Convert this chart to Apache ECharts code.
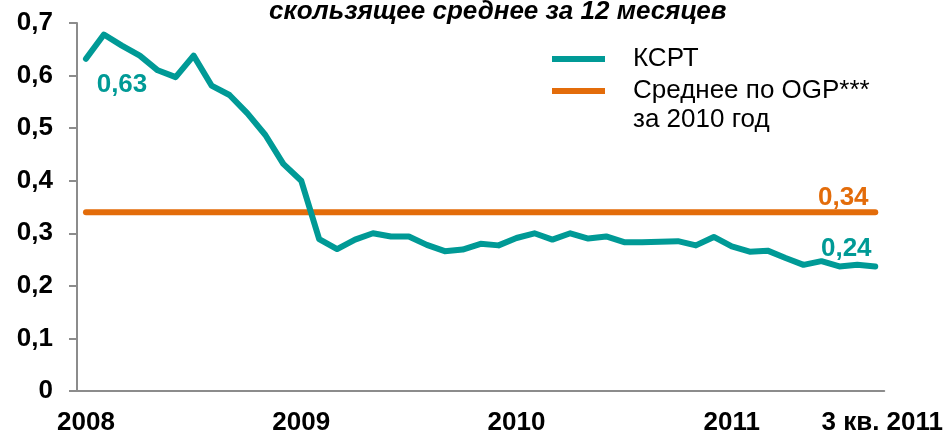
<!DOCTYPE html>
<html>
<head>
<meta charset="utf-8">
<script src="https://cdn.jsdelivr.net/npm/echarts@6/dist/echarts.min.js"></script>
<style>
  html, body { margin: 0; padding: 0; background: #fff; }
  #container { width: 946px; height: 436px; }
</style>
</head>
<body>
<div id="container"></div>
<script>
var years = ["2008", "2009", "2010", "2011"];
var months = ["01", "02", "03", "04", "05", "06", "07", "08", "09", "10", "11", "12"];
// янв. 2008 .. сен. 2011
var categories = [];
years.forEach(function (y) {
    months.forEach(function (m) {
        if (categories.length < 45) categories.push(y + "-" + m);
    });
});

// КСРТ, скользящее среднее за 12 месяцев
var ksrt = [
    0.632, 0.678, 0.657, 0.638, 0.610, 0.597, 0.638, 0.581, 0.563, 0.528, 0.487, 0.432,
    0.400, 0.289, 0.270, 0.288, 0.300, 0.294, 0.294, 0.278, 0.266, 0.269, 0.280, 0.277,
    0.291, 0.300, 0.288, 0.300, 0.290, 0.294, 0.283, 0.283, 0.284, 0.285, 0.277, 0.293,
    0.275, 0.265, 0.267, 0.253, 0.240, 0.247, 0.237, 0.240, 0.237
];
var ogpAvg = 0.34;

var tickIdx = [0, 12, 24, 36, 44];
var tickText = ["2008", "2009", "2010", "2011", "3 кв. 2011"];

var teal = "#009A96";
var orange = "#E36C0A";
var font = "'Liberation Sans', Arial, sans-serif";

function comma(v) {
    return String(v).replace(".", ",");
}

var dom = document.getElementById("container");
var myChart = echarts.init(dom);

var ksrtData = ksrt.map(function (v, i) {
    if (i == 0) {
        return { value: v, label: { show: true, position: "bottom", offset: [36, 8], formatter: "0,63" } };
    }
    if (i == ksrt.length - 1) {
        return { value: v, label: { show: true, position: "top", offset: [-29, 0], formatter: "0,24" } };
    }
    return v;
});

var ogpData = [
    [categories[0], ogpAvg],
    { value: [categories[categories.length - 1], ogpAvg], label: { show: true, position: "top", offset: [-32, 4], formatter: comma(ogpAvg) } }
];

var option = {
    animation: false,
    textStyle: { fontFamily: font },
    title: {
        text: "скользящее среднее за 12 месяцев",
        left: 269,
        top: -1,
        padding: 0,
        textStyle: { fontFamily: font, fontSize: 26, fontWeight: "bold", fontStyle: "italic", color: "#000" }
    },
    legend: {
        orient: "vertical",
        left: 552,
        top: 43,
        padding: 0,
        itemGap: 0,
        itemWidth: 53,
        itemHeight: 6,
        icon: "rect",
        selectedMode: false,
        textStyle: { fontFamily: font, fontSize: 26, color: "#000", lineHeight: 32, padding: [0, 0, 0, 23] },
        data: ["КСРТ", "Среднее по OGP***"]
    },
    graphic: [{
        type: "text",
        left: 633,
        top: 107,
        style: { text: "за 2010 год", font: "26px " + font, fill: "#000" }
    }],
    grid: { left: 77, right: 60, top: 23, bottom: 44 },
    xAxis: {
        type: "category",
        data: categories,
        boundaryGap: true,
        axisLine: { lineStyle: { color: "#8C8C8C", width: 2 } },
        axisTick: { interval: 2, length: 8, lineStyle: { color: "#8C8C8C", width: 2 } },
        axisLabel: {
            interval: 0,
            margin: 19,
            fontSize: 26,
            fontWeight: "bold",
            color: "#000",
            fontFamily: font,
            formatter: function (val, idx) {
                var k = tickIdx.indexOf(idx);
                if (k < 0) return "";
                if (idx == 44) return "{last|" + tickText[k] + "}";
                return tickText[k];
            },
            rich: { last: { fontSize: 26, fontWeight: "bold", color: "#000", fontFamily: font, padding: [0, 0, 0, 14] } }
        }
    },
    yAxis: {
        type: "value",
        min: 0,
        max: 0.7,
        interval: 0.1,
        splitLine: { show: false },
        axisLine: { show: true, lineStyle: { color: "#8C8C8C", width: 2 } },
        axisTick: { show: true, length: 8, lineStyle: { color: "#8C8C8C", width: 2 } },
        axisLabel: {
            margin: 24,
            fontSize: 26,
            fontWeight: "bold",
            color: "#000",
            fontFamily: font,
            formatter: function (v) { return comma(Math.round(v * 10) / 10); }
        }
    },
    series: [
        {
            name: "КСРТ",
            type: "line",
            data: ksrtData,
            symbol: "circle",
            symbolSize: 0,
            showSymbol: true,
            color: teal,
            lineStyle: { color: teal, width: 6, cap: "round", join: "round" },
            label: { color: teal, fontSize: 26, fontWeight: "bold", fontFamily: font },
            z: 3
        },
        {
            name: "Среднее по OGP***",
            type: "line",
            data: ogpData,
            symbol: "circle",
            symbolSize: 0,
            showSymbol: true,
            color: orange,
            lineStyle: { color: orange, width: 6, cap: "round" },
            label: { color: orange, fontSize: 26, fontWeight: "bold", fontFamily: font },
            z: 2
        }
    ]
};
myChart.setOption(option);
</script>
</body>
</html>
